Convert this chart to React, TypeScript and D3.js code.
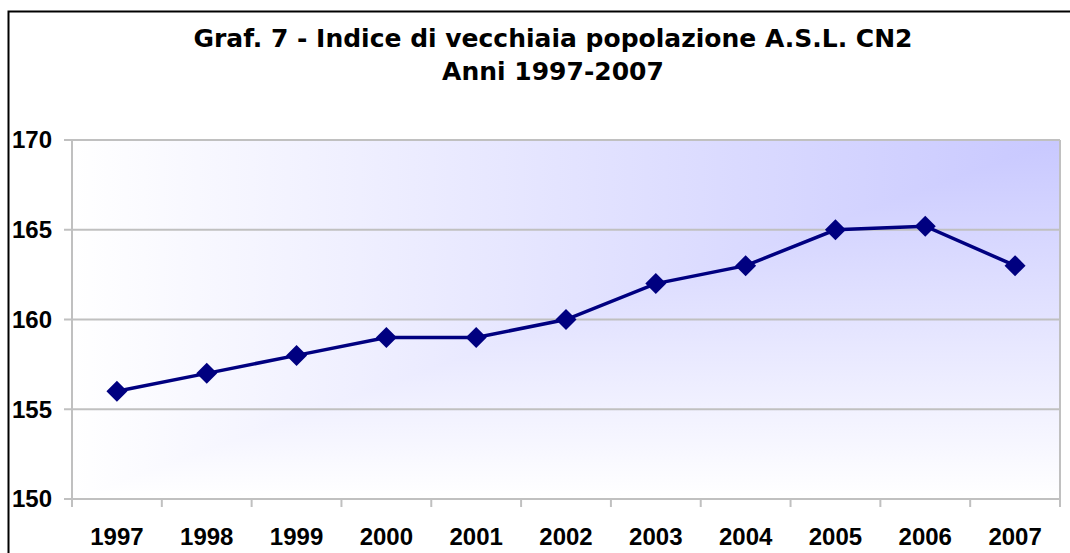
import * as d3 from 'd3'

const years = ['1997', '1998', '1999', '2000', '2001', '2002', '2003', '2004', '2005', '2006', '2007']
const values = [156, 157, 158, 159, 159, 160, 162, 163, 165, 165.2, 163]
const yTicks = [150, 155, 160, 165, 170]

const W = 1070
const H = 553
const margin = { left: 72, right: 10, top: 140, bottom: 54 }

export default function App() {
  const x = d3
    .scaleBand<string>()
    .domain(years)
    .range([margin.left, W - margin.right])
  const y = d3
    .scaleLinear()
    .domain([150, 170])
    .range([H - margin.bottom, margin.top])

  const line = d3
    .line<number>()
    .x((_, i) => x(years[i])! + x.bandwidth() / 2)
    .y((d) => y(d))

  const plotW = W - margin.right - margin.left
  const plotH = y(150) - y(170)
  const diamond = (r: number) => `M0,${-r}L${r},0L0,${r}L${-r},0Z`
  const titleStyle = { fontFamily: 'DejaVu Sans, Verdana, sans-serif', fontWeight: 'bold', fontSize: 25 }
  const axisStyle = { fontFamily: 'Liberation Sans, Arial, sans-serif', fontWeight: 'bold', fontSize: 24 }

  return (
    <svg
      width={W}
      height={H}
      style={{ position: 'absolute', left: 0, top: 0, background: '#fff' }}
    >
      <defs>
        <linearGradient id="bgH" x1="0" y1="0" x2="1" y2="0">
          <stop offset="0%" stopColor="#ffffff" />
          <stop offset="100%" stopColor="#c8c8ff" />
        </linearGradient>
        <linearGradient id="bgV" x1="0" y1="0" x2="0" y2="1">
          <stop offset="0%" stopColor="#c8c8ff" />
          <stop offset="100%" stopColor="#ffffff" />
        </linearGradient>
      </defs>

      {/* outer chart frame */}
      <rect x={8.5} y={11.5} width={W + 10} height={H + 10} fill="#fff" stroke="#000" strokeWidth={2} />

      <text x={553} y={47} textAnchor="middle" style={titleStyle}>
        Graf. 7 - Indice di vecchiaia popolazione A.S.L. CN2
      </text>
      <text x={553} y={80} textAnchor="middle" style={titleStyle}>
        Anni 1997-2007
      </text>

      {/* corner gradient: lighter of a horizontal and a vertical ramp */}
      <g style={{ isolation: 'isolate' }}>
        <rect x={margin.left} y={margin.top} width={plotW} height={plotH} fill="url(#bgH)" />
        <rect
          x={margin.left}
          y={margin.top}
          width={plotW}
          height={plotH}
          fill="url(#bgV)"
          style={{ mixBlendMode: 'lighten' }}
        />
      </g>

      {yTicks.map((t) => (
        <g key={t}>
          <line x1={margin.left - 8} x2={W - margin.right} y1={y(t)} y2={y(t)} stroke="#c0c0c0" strokeWidth={2} />
          <text x={52} y={y(t)} textAnchor="end" dy="0.35em" style={axisStyle}>
            {t}
          </text>
        </g>
      ))}

      <line x1={margin.left} x2={margin.left} y1={margin.top} y2={y(150)} stroke="#c0c0c0" strokeWidth={2} />
      <line x1={W - margin.right} x2={W - margin.right} y1={margin.top} y2={y(150)} stroke="#c0c0c0" strokeWidth={2} />

      {[...years, ''].map((yr, i) => {
        const xx = margin.left + i * x.bandwidth()
        return <line key={i} x1={xx} x2={xx} y1={y(150)} y2={y(150) + 8} stroke="#c0c0c0" strokeWidth={2} />
      })}
      {years.map((yr) => (
        <text key={yr} x={x(yr)! + x.bandwidth() / 2} y={545} textAnchor="middle" style={axisStyle}>
          {yr}
        </text>
      ))}

      <path d={line(values)!} fill="none" stroke="#000080" strokeWidth={3.5} />
      {values.map((v, i) => (
        <path
          key={i}
          d={diamond(10.5)}
          transform={`translate(${x(years[i])! + x.bandwidth() / 2},${y(v)})`}
          fill="#000080"
        />
      ))}
    </svg>
  )
}
